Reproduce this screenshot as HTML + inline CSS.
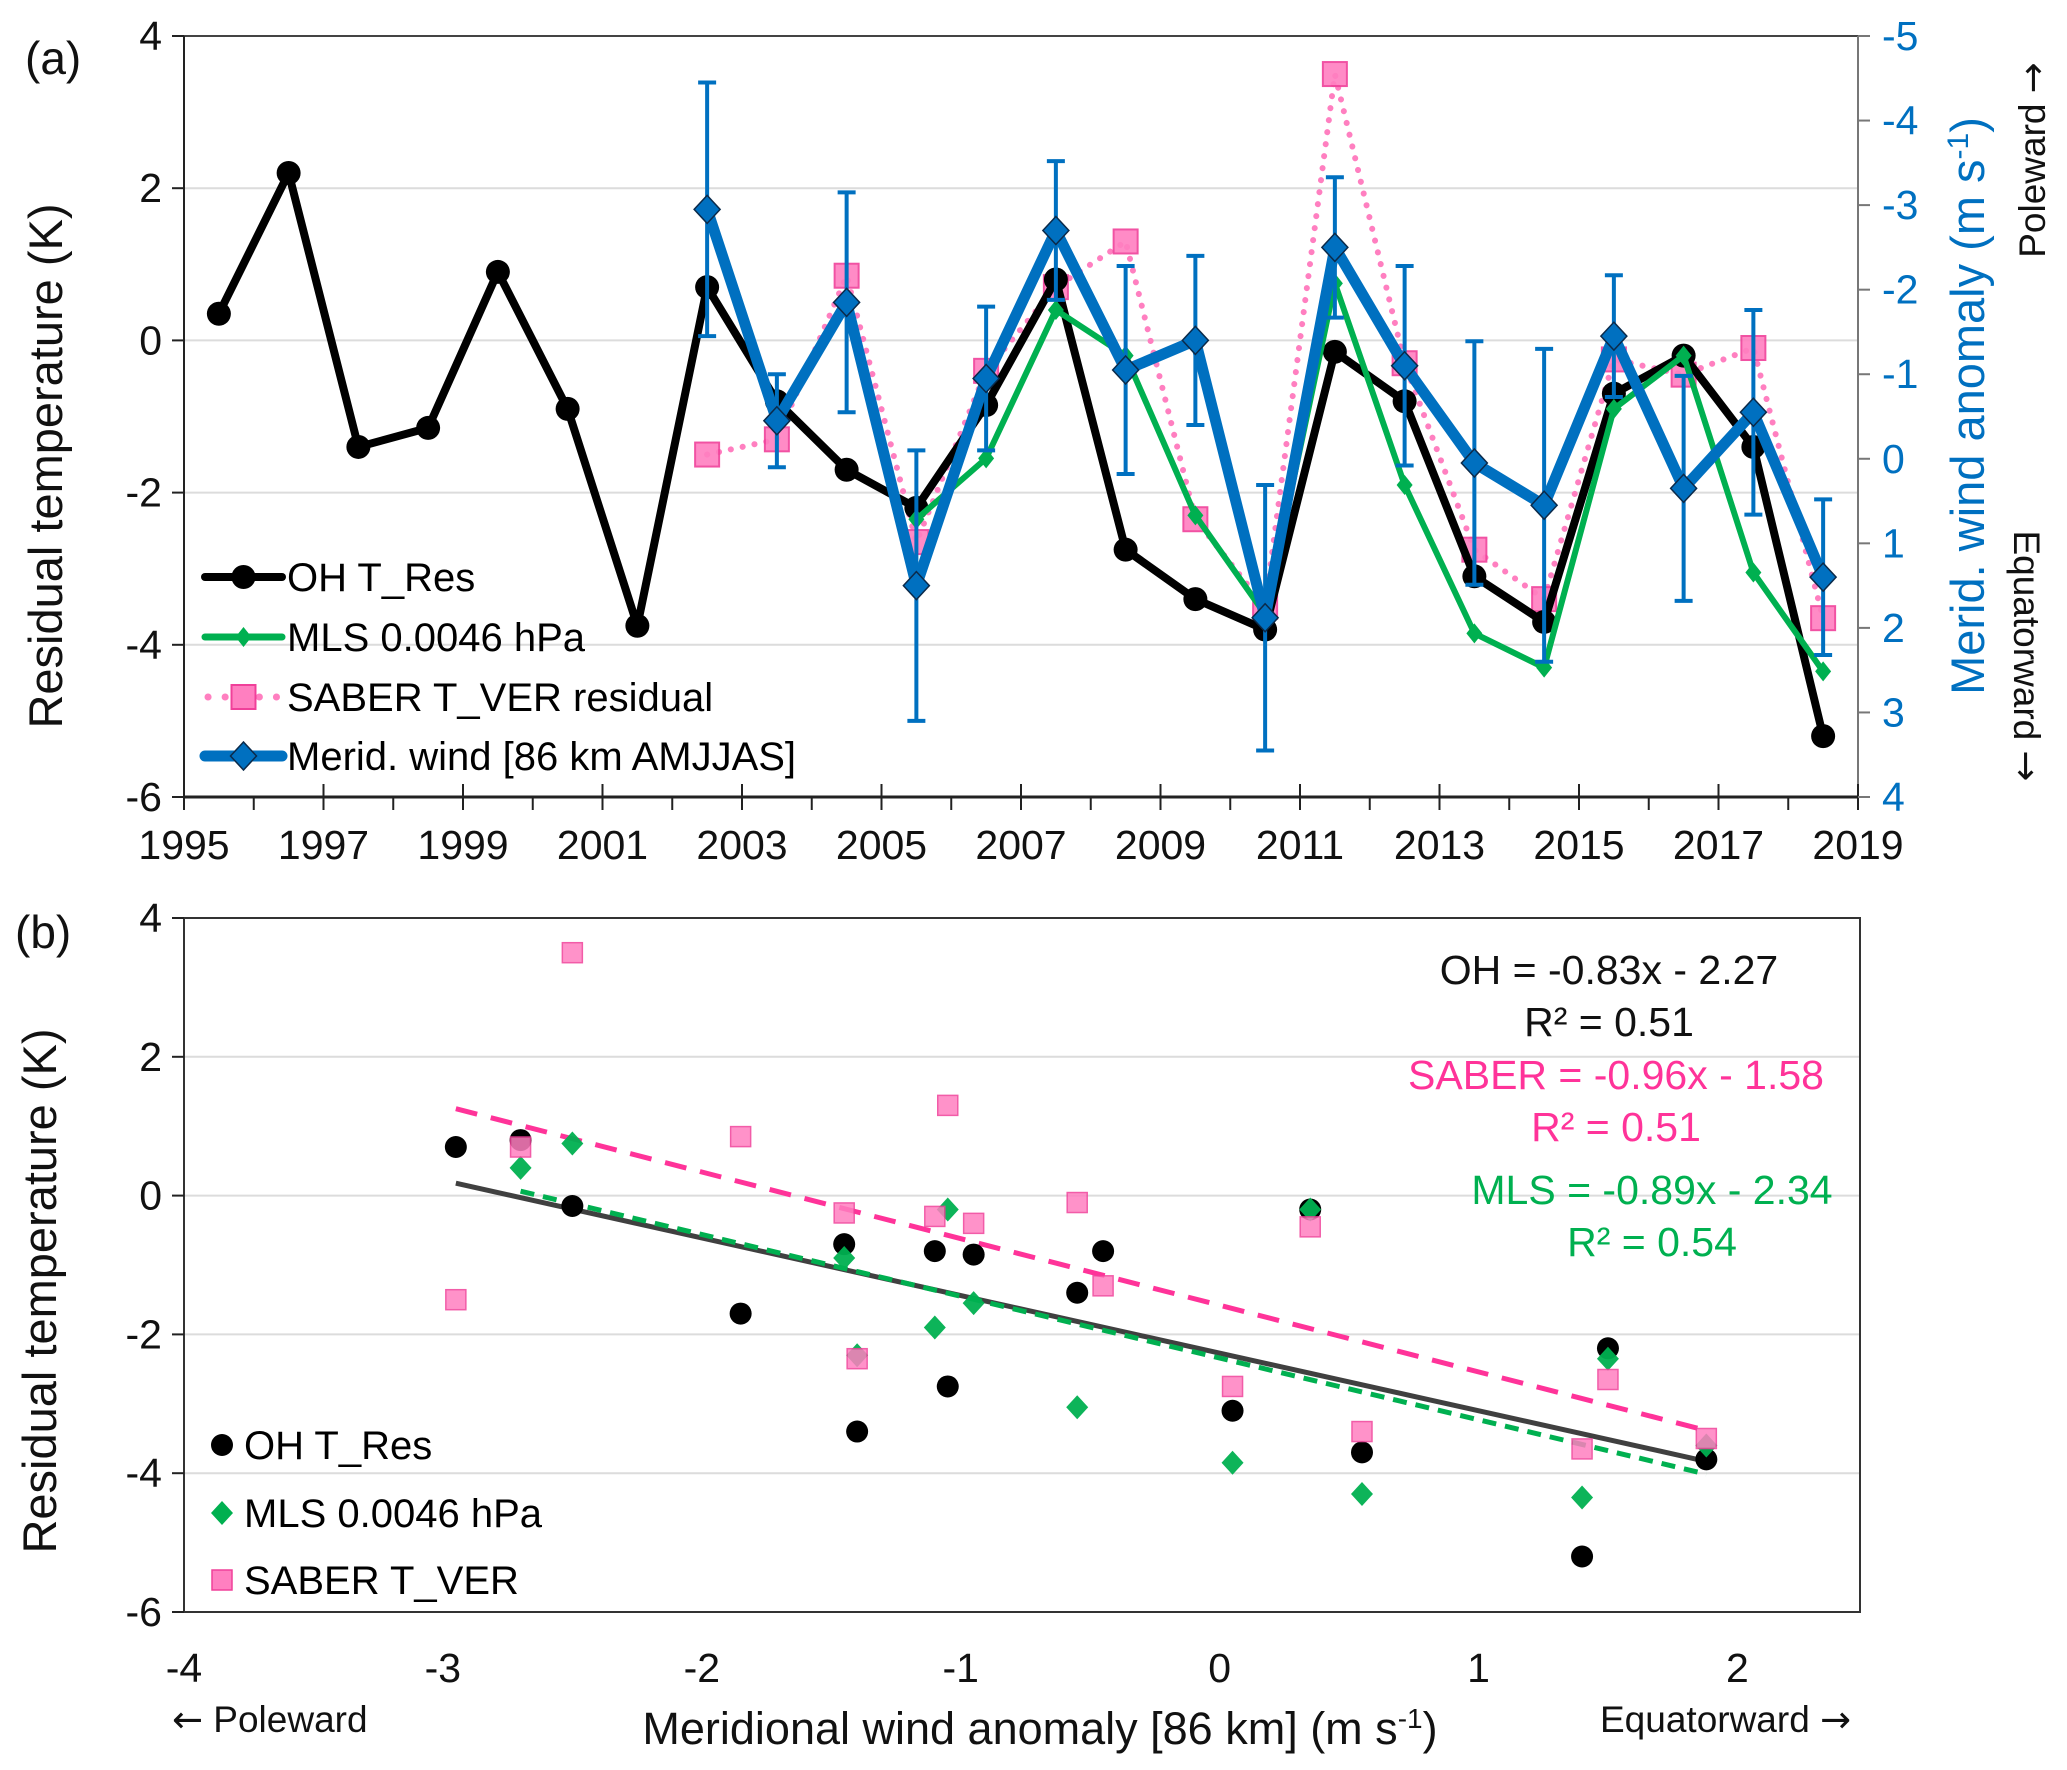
<!DOCTYPE html>
<html><head><meta charset="utf-8">
<style>
html,body{margin:0;padding:0;background:#fff;}
svg{display:block;font-family:"Liberation Sans",Arial,sans-serif;}
</style></head>
<body>
<svg id="chart" width="2067" height="1770" viewBox="0 0 2067 1770" xmlns="http://www.w3.org/2000/svg"></svg>
<script>
// ---- data ----
const years = [1995.5,1996.5,1997.5,1998.5,1999.5,2000.5,2001.5,2002.5,2003.5,2004.5,2005.5,2006.5,2007.5,2008.5,2009.5,2010.5,2011.5,2012.5,2013.5,2014.5,2015.5,2016.5,2017.5,2018.5];
const ohRes = [0.35,2.2,-1.4,-1.15,0.9,-0.9,-3.75,0.7,-0.8,-1.7,-2.2,-0.85,0.8,-2.75,-3.4,-3.8,-0.15,-0.8,-3.1,-3.7,-0.7,-0.2,-1.4,-5.2];
const mlsRes = [null,null,null,null,null,null,null,null,null,null,-2.35,-1.55,0.4,-0.2,-2.3,-3.6,0.75,-1.9,-3.85,-4.3,-0.9,-0.2,-3.05,-4.35];
const saberRes = [null,null,null,null,null,null,null,-1.5,-1.3,0.85,-2.65,-0.4,0.7,1.3,-2.35,-3.5,3.5,-0.3,-2.75,-3.4,-0.25,-0.45,-0.1,-3.65];
const windAnom = [null,null,null,null,null,null,null,-2.95,-0.45,-1.85,1.5,-0.95,-2.7,-1.05,-1.4,1.88,-2.5,-1.1,0.05,0.55,-1.45,0.35,-0.55,1.4];
const windErr = [null,null,null,null,null,null,null,1.5,0.55,1.3,1.6,0.85,0.82,1.23,1.0,1.57,0.83,1.18,1.44,1.85,0.72,1.33,1.21,0.92];
const xTicksA = [1995,1997,1999,2001,2003,2005,2007,2009,2011,2013,2015,2017,2019];
const yTicks = [4,2,0,-2,-4,-6];
const rTicks = [-5,-4,-3,-2,-1,0,1,2,3,4];
const xTicksB = [-4,-3,-2,-1,0,1,2];
const fitOH = [-0.83,-2.27], fitSABER = [-0.96,-1.58], fitMLS = [-0.89,-2.34];

const NS="http://www.w3.org/2000/svg";
const svg=document.getElementById('chart');
function el(tag,attrs,parent){const e=document.createElementNS(NS,tag);for(const k in attrs)e.setAttribute(k,attrs[k]);(parent||svg).appendChild(e);return e;}
function txt(s,attrs,parent){const e=el('text',attrs,parent);e.textContent=s;return e;}

const BLUE="#0070C0",GREEN="#00B050",PINK="#FF7FC0",PINKS="#F0409A",PINKL="#FF3399";
const ARROWFONT='font-family="DejaVu Sans, sans-serif"';

// ---- panel a scales ----
const A={l:184,r:1858,t:36,b:797};
const xa=v=>A.l+(v-1995)/24*(A.r-A.l);
const ya=v=>A.t+(4-v)/10*(A.b-A.t);
const yr=v=>A.t+(v+5)/9*(A.b-A.t);

const ga=el('g',{});  
yTicks.forEach(v=>{ if(v!==-6&&v!==4){const g=el('line',{x1:A.l,x2:A.r,y1:ya(v),y2:ya(v),stroke:'#dcdcdc','stroke-width':2},ga);}});
let ax=el('line',{x1:A.l,x2:A.r,y1:A.t,y2:A.t,stroke:'#444','stroke-width':2},ga);
ax=el('line',{x1:A.l,x2:A.l,y1:A.t,y2:A.b,stroke:'#222','stroke-width':2},ga);
ax=el('line',{x1:A.r,x2:A.r,y1:A.t,y2:A.b,stroke:'#777','stroke-width':2},ga);
ax=el('line',{x1:A.l,x2:A.r,y1:A.b,y2:A.b,stroke:'#222','stroke-width':3},ga);
for(let y=1995;y<=2019;y++){const odd=(y%2===1);el('line',{x1:xa(y),x2:xa(y),y1:odd?A.b-13:A.b,y2:A.b+13,stroke:'#222','stroke-width':2},ga);}
xTicksA.forEach(v=>{const t=txt(v,{x:xa(v),y:A.b+62,'font-size':41,'text-anchor':'middle',fill:'#111'},ga);});
yTicks.forEach(v=>{el('line',{x1:A.l-12,x2:A.l,y1:ya(v),y2:ya(v),stroke:'#222','stroke-width':2},ga);const t=txt(v,{x:A.l-22,y:ya(v)+14,'font-size':41,'text-anchor':'end',fill:'#111'},ga);});
rTicks.forEach(v=>{el('line',{x1:A.r,x2:A.r+12,y1:yr(v),y2:yr(v),stroke:'#777','stroke-width':2},ga);const t=txt(v,{x:A.r+24,y:yr(v)+14,'font-size':41,'text-anchor':'start',fill:BLUE},ga);});

function pathFrom(xs,vs,fx,fy){let d='';let first=true;xs.forEach((x,i)=>{if(vs[i]===null)return;d+=(first?'M':'L')+fx(x)+','+fy(vs[i])+' ';first=false;});return d;}
let p=el('path',{d:pathFrom(years,saberRes,xa,ya),fill:'none',stroke:PINK,'stroke-width':6,'stroke-dasharray':'0.1 12','stroke-linecap':'round'},ga);

years.forEach((x,i)=>{if(saberRes[i]===null)return;const r=el('rect',{x:xa(x)-12,y:ya(saberRes[i])-12,width:24,height:24,fill:PINK,stroke:PINKS,'stroke-width':2,opacity:0.9},ga);});
p=el('path',{d:pathFrom(years,ohRes,xa,ya),fill:'none',stroke:'#000','stroke-width':8,'stroke-linejoin':'round'},ga);

years.forEach((x,i)=>{const c=el('circle',{cx:xa(x),cy:ya(ohRes[i]),r:12,fill:'#000'},ga);});
p=el('path',{d:pathFrom(years,mlsRes,xa,ya),fill:'none',stroke:GREEN,'stroke-width':6,'stroke-linejoin':'round'},ga);

years.forEach((x,i)=>{if(mlsRes[i]===null)return;const cx=xa(x),cy=ya(mlsRes[i]);const m=el('path',{d:`M${cx},${cy-10}L${cx+8},${cy}L${cx},${cy+10}L${cx-8},${cy}Z`,fill:GREEN},ga);});
years.forEach((x,i)=>{if(windAnom[i]===null)return;const cx=xa(x),y1=yr(windAnom[i]-windErr[i]),y2=yr(windAnom[i]+windErr[i]);
 const g=el('g',{stroke:BLUE,'stroke-width':4},ga);
 el('line',{x1:cx,x2:cx,y1:y1,y2:y2},g);el('line',{x1:cx-9,x2:cx+9,y1:y1,y2:y1},g);el('line',{x1:cx-9,x2:cx+9,y1:y2,y2:y2},g);});
p=el('path',{d:pathFrom(years,windAnom,xa,yr),fill:'none',stroke:BLUE,'stroke-width':11,'stroke-linejoin':'round'},ga);

years.forEach((x,i)=>{if(windAnom[i]===null)return;const cx=xa(x),cy=yr(windAnom[i]);const m=el('path',{d:`M${cx},${cy-14}L${cx+13},${cy}L${cx},${cy+14}L${cx-13},${cy}Z`,fill:BLUE,stroke:'#0b2a4a','stroke-width':1.5},ga);});

// legend a
const lg=el('g',{},ga);
const LX1=205,LX2=282,LXM=243.5;
let e;
e=el('g',{},lg);
el('line',{x1:LX1,x2:LX2,y1:577,y2:577,stroke:'#000','stroke-width':8,'stroke-linecap':'round'},e);el('circle',{cx:LXM,cy:577,r:12,fill:'#000'},e);txt('OH T_Res',{x:287,y:591,'font-size':40},e);
e=el('g',{},lg);
el('line',{x1:LX1,x2:LX2,y1:637,y2:637,stroke:GREEN,'stroke-width':7,'stroke-linecap':'round'},e);el('path',{d:`M${LXM},627L${LXM+8},637L${LXM},647L${LXM-8},637Z`,fill:GREEN},e);txt('MLS 0.0046 hPa',{x:287,y:651,'font-size':40},e);
e=el('g',{},lg);
el('line',{x1:LX1+3,x2:LX2-3,y1:697,y2:697,stroke:PINK,'stroke-width':7,'stroke-dasharray':'0.1 17','stroke-linecap':'round'},e);el('rect',{x:LXM-12,y:685,width:24,height:24,fill:PINK,stroke:PINKS,'stroke-width':2},e);txt('SABER T_VER residual',{x:287,y:711,'font-size':40},e);
e=el('g',{},lg);
el('line',{x1:LX1,x2:LX2,y1:756,y2:756,stroke:BLUE,'stroke-width':11,'stroke-linecap':'round'},e);el('path',{d:`M${LXM},742L${LXM+13},756L${LXM},770L${LXM-13},756Z`,fill:BLUE,stroke:'#0b2a4a','stroke-width':1.5},e);txt('Merid. wind [86 km AMJJAS]',{x:287,y:770,'font-size':40},e);

// titles a
e=txt('(a)',{x:25,y:74,'font-size':46,fill:'#111'});
e=txt('Residual temperature (K)',{x:0,y:0,'font-size':47,'text-anchor':'middle',fill:'#111',transform:'translate(62,466) rotate(-90)'});
e=el('text',{x:0,y:0,'font-size':47,'text-anchor':'middle',fill:BLUE,transform:'translate(1984,406) rotate(-90)'});
e.innerHTML='Merid. wind anomaly (m s<tspan dy="-16" font-size="30">-1</tspan><tspan dy="16">)</tspan>';
e=el('text',{x:0,y:0,'font-size':37,'text-anchor':'middle',fill:'#111',transform:'translate(2045,160) rotate(-90)'});
e.innerHTML='Poleward <tspan '+ARROWFONT+'>→</tspan>';
e=el('text',{x:0,y:0,'font-size':37,'text-anchor':'middle',fill:'#111',transform:'translate(2014,656) rotate(90)'});
e.innerHTML='Equatorward <tspan '+ARROWFONT+'>→</tspan>';

// ---- panel b ----
const B={l:184,r:1860,t:918,b:1612};
const xb=v=>B.l+(v+4)*258.9;
const yb=v=>B.t+(4-v)/10*(B.b-B.t);
const gb=el('g',{});
yTicks.forEach(v=>{if(v!==-6&&v!==4){const g=el('line',{x1:B.l,x2:B.r,y1:yb(v),y2:yb(v),stroke:'#dcdcdc','stroke-width':2},gb);}});
e=el('rect',{x:B.l,y:B.t,width:B.r-B.l,height:B.b-B.t,fill:'none',stroke:'#333','stroke-width':2},gb);
yTicks.forEach(v=>{el('line',{x1:B.l-12,x2:B.l,y1:yb(v),y2:yb(v),stroke:'#222','stroke-width':2},gb);const t=txt(v,{x:B.l-22,y:yb(v)+14,'font-size':41,'text-anchor':'end',fill:'#111'},gb);});
xTicksB.forEach(v=>{const t=txt(v,{x:xb(v),y:1682,'font-size':41,'text-anchor':'middle',fill:'#111'},gb);});
function fitLine(f,x0,x1,attrs,name){const l=el('line',Object.assign({x1:xb(x0),x2:xb(x1),y1:yb(f[0]*x0+f[1]),y2:yb(f[0]*x1+f[1])},attrs),gb);}
const wv=windAnom.filter(v=>v!==null);
const wMin=Math.min(...wv), wMax=Math.max(...wv);
const mlsW=windAnom.filter((v,i)=>v!==null&&mlsRes[i]!==null);
fitLine(fitSABER,wMin,wMax,{stroke:PINKL,'stroke-width':5,'stroke-dasharray':'22 14'},'saber-fit-line');
fitLine(fitOH,wMin,wMax,{stroke:'#404040','stroke-width':5},'oh-fit-line');
fitLine(fitMLS,Math.min(...mlsW),Math.max(...mlsW),{stroke:GREEN,'stroke-width':5,'stroke-dasharray':'14 9'},'mls-fit-line');
years.forEach((x,i)=>{if(windAnom[i]===null)return;const cx=xb(windAnom[i]);
 const c=el('circle',{cx:cx,cy:yb(ohRes[i]),r:11,fill:'#000'},gb);
 if(mlsRes[i]!==null){const cy=yb(mlsRes[i]);const m=el('path',{d:`M${cx},${cy-12}L${cx+11},${cy}L${cx},${cy+12}L${cx-11},${cy}Z`,fill:GREEN,opacity:0.95},gb);}
 if(saberRes[i]!==null){const r=el('rect',{x:cx-10,y:yb(saberRes[i])-10,width:20,height:20,fill:PINK,stroke:PINKS,'stroke-width':1.5,opacity:0.85},gb);}
});
e=txt('OH = -0.83x - 2.27',{x:1609,y:984,'font-size':41,'text-anchor':'middle',fill:'#111'},gb);
e=txt('R² = 0.51',{x:1609,y:1036,'font-size':41,'text-anchor':'middle',fill:'#111'},gb);
e=txt('SABER = -0.96x - 1.58',{x:1616,y:1089,'font-size':41,'text-anchor':'middle',fill:PINKL},gb);
e=txt('R² = 0.51',{x:1616,y:1141,'font-size':41,'text-anchor':'middle',fill:PINKL},gb);
e=txt('MLS = -0.89x - 2.34',{x:1652,y:1204,'font-size':41,'text-anchor':'middle',fill:GREEN},gb);
e=txt('R² = 0.54',{x:1652,y:1256,'font-size':41,'text-anchor':'middle',fill:GREEN},gb);
const lb=el('g',{},gb);
e=el('g',{},lb);
el('circle',{cx:222,cy:1445,r:11,fill:'#000'},e);txt('OH T_Res',{x:244,y:1459,'font-size':40},e);
e=el('g',{},lb);
el('path',{d:'M222,1501L233,1513L222,1525L211,1513Z',fill:GREEN},e);txt('MLS 0.0046 hPa',{x:244,y:1527,'font-size':40},e);
e=el('g',{},lb);
el('rect',{x:212,y:1570,width:20,height:20,fill:PINK,stroke:PINKS,'stroke-width':1.5},e);txt('SABER T_VER',{x:244,y:1594,'font-size':40},e);
e=txt('(b)',{x:15,y:948,'font-size':46,fill:'#111'});
e=txt('Residual temperature (K)',{x:0,y:0,'font-size':47,'text-anchor':'middle',fill:'#111',transform:'translate(56,1291) rotate(-90)'});
e=el('text',{x:1040,y:1744,'font-size':45,'text-anchor':'middle',fill:'#111'});
e.innerHTML='Meridional wind anomaly [86 km] (m s<tspan dy="-16" font-size="28">-1</tspan><tspan dy="16">)</tspan>';
e=el('text',{x:172,y:1732,'font-size':37,fill:'#111'});
e.innerHTML='<tspan '+ARROWFONT+'>←</tspan> Poleward';
e=el('text',{x:1600,y:1732,'font-size':37,fill:'#111'});
e.innerHTML='Equatorward <tspan '+ARROWFONT+'>→</tspan>';
</script>
</body></html>
